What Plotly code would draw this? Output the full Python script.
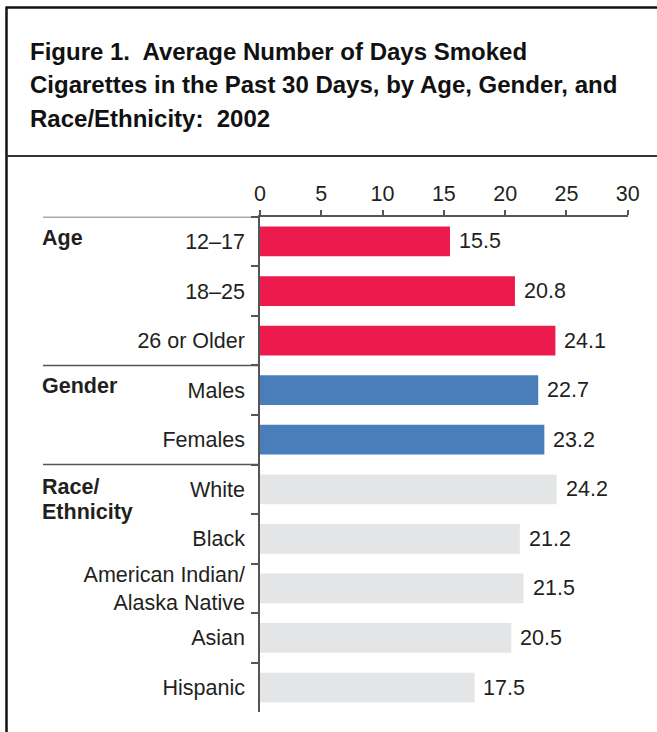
import plotly.graph_objects as go

# ---- data ----
categories = ["12–17", "18–25", "26 or Older", "Males", "Females",
              "White", "Black", "American Indian/<br>Alaska Native", "Asian", "Hispanic"]
values = [15.5, 20.8, 24.1, 22.7, 23.2, 24.2, 21.2, 21.5, 20.5, 17.5]
groups = ["Age", "Age", "Age", "Gender", "Gender",
          "Race", "Race", "Race", "Race", "Race"]
group_colors = {"Age": "#ED1A4E", "Gender": "#4A7EBB", "Race": "#E4E5E6"}
x_ticks = [0, 5, 10, 15, 20, 25, 30]
title_lines = ["Figure 1.\u00a0 Average Number of Days Smoked",
               "Cigarettes in the Past 30 Days, by Age, Gender, and",
               "Race/Ethnicity:\u00a0 2002"]

W, H = 657, 732
FONT = "Liberation Sans, Arial, Helvetica, sans-serif"
TXT = "#231F20"
AX = "#555555"


def px(x):
    return x / W


def py(y):
    return 1 - y / H


x0_px, x30_px = 260, 627.7
y_top_px, y_bot_px = 216.7, 712.3

fig = go.Figure()
fig.add_trace(go.Bar(
    x=values, y=categories, orientation="h",
    marker=dict(color=[group_colors[g] for g in groups], line=dict(width=0)),
    hoverinfo="skip",
))

annotations = []
# value labels
for c, v in zip(categories, values):
    annotations.append(dict(x=v, y=c, xref="x", yref="y", text=f"{v}",
                            xanchor="left", yanchor="middle", xshift=7, showarrow=False,
                            font=dict(family=FONT, size=21.5, color=TXT)))

# title lines
for i, (t, yc) in enumerate(zip(title_lines, [51, 85, 118.5])):
    annotations.append(dict(x=px(27.5), y=py(yc), xref="paper", yref="paper", text=f"<b>{t}</b>",
                            xanchor="left", yanchor="middle", showarrow=False,
                            font=dict(family=FONT, size=24, color="#111111")))

# group labels
for t, yc in [("Age", 238.5), ("Gender", 385.5), ("Race/", 487), ("Ethnicity", 511.5)]:
    annotations.append(dict(x=px(40), y=py(yc), xref="paper", yref="paper", text=f"<b>{t}</b>",
                            xanchor="left", yanchor="middle", showarrow=False,
                            font=dict(family=FONT, size=21.5, color=TXT)))

shapes = []
# separator lines between groups (at category boundaries)
for yb in [-0.5, 2.5, 4.5]:
    shapes.append(dict(type="line", xref="paper", yref="y", x0=px(43), x1=px(x0_px),
                       y0=yb, y1=yb, line=dict(color=AX, width=1.5)))
# frame lines
shapes.append(dict(type="line", xref="paper", yref="paper", x0=px(6.5), x1=1.0,
                   y0=py(7.5), y1=py(7.5), line=dict(color="#111111", width=2.5)))
shapes.append(dict(type="line", xref="paper", yref="paper", x0=px(6.5), x1=px(6.5),
                   y0=py(6.5), y1=0, line=dict(color="#111111", width=2.5)))
shapes.append(dict(type="line", xref="paper", yref="paper", x0=px(6.5), x1=1.0,
                   y0=py(156), y1=py(156), line=dict(color="#333333", width=1.8)))

fig.update_layout(
    width=W, height=H, autosize=False,
    margin=dict(l=0, r=0, t=0, b=0, pad=0, autoexpand=False),
    paper_bgcolor="white", plot_bgcolor="white",
    showlegend=False, bargap=0.4,
    annotations=annotations, shapes=shapes,
    font=dict(family=FONT, size=21.5, color=TXT),
    xaxis=dict(domain=[px(x0_px), px(x30_px)], range=[0, 30], side="top",
               tickvals=x_ticks, ticktext=[str(t) for t in x_ticks],
               ticks="outside", ticklen=5, tickwidth=1.5, tickcolor=AX,
               showline=True, linecolor=AX, linewidth=1.5, automargin=False,
               showgrid=False, zeroline=False, fixedrange=True,
               tickfont=dict(family=FONT, size=21.5, color=TXT)),
    yaxis=dict(domain=[py(y_bot_px), py(y_top_px)], type="category",
               categoryorder="array", categoryarray=categories,
               range=[9.5, -0.5], tickson="boundaries",
               ticks="outside", ticklen=7, tickwidth=1.5, tickcolor=AX,
               showline=True, linecolor=AX, linewidth=1.5, automargin=False,
               showgrid=False, zeroline=False, fixedrange=True,
               ticklabelstandoff=9,
               tickfont=dict(family=FONT, size=21.5, color=TXT)),
)

fig.write_html("out.html", config={"displayModeBar": False, "responsive": False},
               post_script="document.body.style.margin='0';document.body.style.overflow='hidden';")
